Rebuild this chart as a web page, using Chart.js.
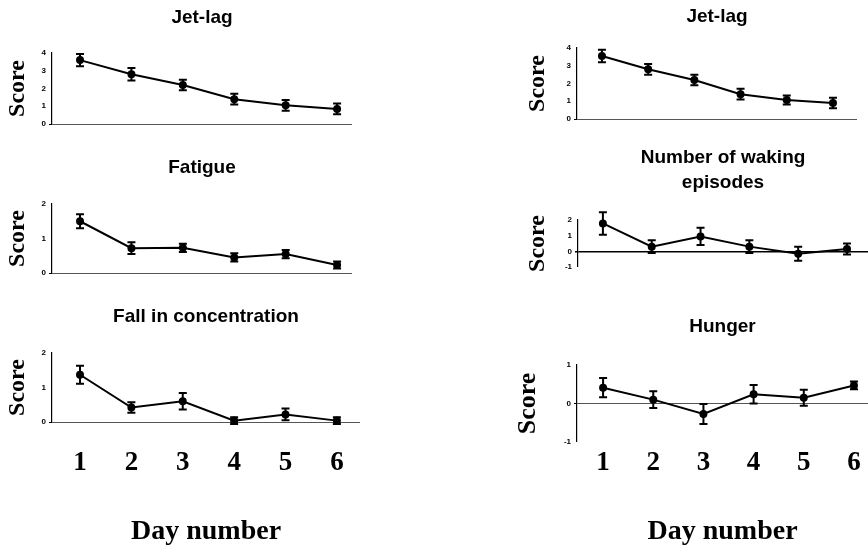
<!DOCTYPE html>
<html>
<head>
<meta charset="utf-8">
<script src="https://cdn.jsdelivr.net/npm/chart.js@4.4.1/dist/chart.umd.min.js"></script>
<style>
  body { margin: 0; background: #fff; }
  #wrap { position: relative; width: 868px; height: 548px; overflow: hidden; background: #fff; }
  #wrap canvas { position: absolute; left: 0; top: 0; }
</style>
</head>
<body>
<div id="wrap">
  <canvas id="jetLagL" width="868" height="548"></canvas>
  <canvas id="fatigue" width="868" height="548"></canvas>
  <canvas id="concentration" width="868" height="548"></canvas>
  <canvas id="jetLagR" width="868" height="548"></canvas>
  <canvas id="waking" width="868" height="548"></canvas>
  <canvas id="hunger" width="868" height="548"></canvas>
</div>
<script>
// DATA: day numbers and mean scores with their error bars
const days = [1, 2, 3, 4, 5, 6];

const jetLagLeft = [3.6, 2.8, 2.2, 1.4, 1.05, 0.85];
const jetLagLeftErr = [0.35, 0.35, 0.3, 0.3, 0.3, 0.3];

const fatigue = [1.5, 0.72, 0.73, 0.45, 0.55, 0.23];
const fatigueErr = [0.2, 0.17, 0.12, 0.12, 0.12, 0.1];

const concentration = [1.37, 0.42, 0.6, 0.04, 0.22, 0.04];
const concentrationErr = [0.26, 0.15, 0.24, 0.1, 0.17, 0.1];

const jetLagRight = [3.55, 2.8, 2.2, 1.4, 1.07, 0.9];
const jetLagRightErr = [0.35, 0.3, 0.3, 0.3, 0.25, 0.3];

const waking = [1.78, 0.3, 0.95, 0.3, -0.15, 0.15];
const wakingErr = [0.72, 0.4, 0.55, 0.4, 0.45, 0.35];

const hunger = [0.41, 0.1, -0.27, 0.24, 0.15, 0.47];
const hungerErr = [0.25, 0.22, 0.26, 0.24, 0.21, 0.1];

const W = 868, H = 548;
const titleFont = { family: "'Liberation Sans', Arial, sans-serif", size: 19, weight: 'bold', lineHeight: 1.3 };
const serifBold = "'Liberation Serif', 'Times New Roman', serif";

// error bars drawn with the chart's own scales
const errorBars = {
  id: 'errorBars',
  afterDatasetsDraw(chart) {
    const ds = chart.data.datasets[0];
    const xs = chart.scales.x, ys = chart.scales.y;
    const c = chart.ctx;
    c.save();
    c.strokeStyle = '#000';
    c.lineWidth = 2;
    ds.data.forEach((p, i) => {
      const e = ds.errors[i];
      const px = xs.getPixelForValue(p.x);
      const top = ys.getPixelForValue(p.y + e);
      const bot = ys.getPixelForValue(p.y - e);
      c.beginPath();
      c.moveTo(px, top); c.lineTo(px, bot);
      c.moveTo(px - 4, top); c.lineTo(px + 4, top);
      c.moveTo(px - 4, bot); c.lineTo(px + 4, bot);
      c.stroke();
    });
    c.restore();
  }
};

// one small panel; "box" is the plot area in page pixels
function panel(id, cfg) {
  const showX = !!cfg.showX;
  const lines = cfg.title.length;
  const lh = titleFont.size * titleFont.lineHeight;
  const padTop = cfg.titleY - lines * lh / 2;
  const scoreSize = cfg.scoreSize || 24;
  const yLeft = cfg.scoreX - scoreSize / 2;
  const bottomPad = showX ? 2 : H - cfg.box.b;

  return new Chart(document.getElementById(id), {
    type: 'line',
    data: {
      datasets: [{
        data: days.map((d, i) => ({ x: d, y: cfg.values[i] })),
        errors: cfg.errors,
        borderColor: '#000',
        borderWidth: 2,
        pointRadius: 3,
        pointBackgroundColor: '#000',
        pointBorderColor: '#000',
        tension: 0,
        clip: false
      }]
    },
    options: {
      responsive: false,
      animation: false,
      devicePixelRatio: 1,
      layout: {
        autoPadding: false,
        padding: { left: yLeft, top: padTop, right: W - cfg.box.r, bottom: bottomPad }
      },
      plugins: {
        legend: { display: false },
        tooltip: { enabled: false },
        title: {
          display: true,
          text: cfg.title,
          color: '#000',
          font: titleFont,
          fullSize: false,
          padding: { top: 0, bottom: cfg.box.t - padTop - lines * lh }
        }
      },
      scales: {
        x: {
          type: 'linear',
          min: cfg.xMin,
          max: cfg.xMax,
          display: showX,
          afterBuildTicks: (s) => { s.ticks = days.map(d => ({ value: d })); },
          afterFit: (s) => { s.height = showX ? H - bottomPad - cfg.box.b : 0; },
          border: { display: false },
          grid: { display: false, drawTicks: false },
          ticks: {
            color: '#000',
            padding: cfg.xTickPad || 0,
            font: { family: serifBold, size: 27, weight: 'bold' }
          },
          title: {
            display: showX,
            text: 'Day number',
            color: '#000',
            padding: 0,
            font: { family: serifBold, size: 28, weight: 'bold', lineHeight: 1 }
          }
        },
        y: {
          min: cfg.yMin,
          max: cfg.yMax,
          afterFit: (s) => { s.width = cfg.box.l - yLeft; },
          border: { display: true, color: '#000', width: 1.2 },
          grid: {
            drawOnChartArea: true,
            color: (c) => c.tick && c.tick.value === 0 ? (cfg.zeroColor || '#555') : 'rgba(0,0,0,0)',
            lineWidth: (c) => c.tick && c.tick.value === 0 ? (cfg.zeroWidth || 1) : 0,
            tickColor: '#000',
            tickLength: 3
          },
          ticks: {
            stepSize: 1,
            color: '#000',
            padding: 3,
            font: { family: "'Liberation Sans', Arial, sans-serif", size: 8, weight: 'bold' }
          },
          title: {
            display: true,
            text: 'Score',
            color: '#000',
            padding: 0,
            font: { family: serifBold, size: scoreSize, weight: 'bold', lineHeight: 1 }
          }
        }
      }
    },
    plugins: [errorBars]
  });
}

// left column
panel('jetLagL', {
  title: ['Jet-lag'], titleY: 18, values: jetLagLeft, errors: jetLagLeftErr,
  box: { l: 52, t: 53, r: 352, b: 124 }, yMin: 0, yMax: 4, xMin: 0.455, xMax: 6.29, scoreX: 18
});
panel('fatigue', {
  title: ['Fatigue'], titleY: 168, values: fatigue, errors: fatigueErr,
  box: { l: 52, t: 204, r: 352, b: 273 }, yMin: 0, yMax: 2, xMin: 0.455, xMax: 6.29, scoreX: 18
});
panel('concentration', {
  title: ['Fall in concentration'], titleY: 317, values: concentration, errors: concentrationErr,
  box: { l: 52, t: 353, r: 360, b: 422 }, yMin: 0, yMax: 2, xMin: 0.455, xMax: 6.45, scoreX: 18,
  showX: true, xTickPad: 25
});

// right column
panel('jetLagR', {
  title: ['Jet-lag'], titleY: 17, values: jetLagRight, errors: jetLagRightErr,
  box: { l: 577, t: 48, r: 857, b: 119 }, yMin: 0, yMax: 4, xMin: 0.46, xMax: 6.52, scoreX: 538
});
panel('waking', {
  title: ['Number of waking', 'episodes'], titleY: 170, values: waking, errors: wakingErr,
  box: { l: 578, t: 220, r: 868, b: 267 }, yMin: -1, yMax: 2, xMin: 0.49, xMax: 6.43, scoreX: 538,
  zeroColor: '#000', zeroWidth: 1.5
});
panel('hunger', {
  title: ['Hunger'], titleY: 327, values: hunger, errors: hungerErr,
  box: { l: 577, t: 365, r: 868, b: 442 }, yMin: -1, yMax: 1, xMin: 0.48, xMax: 6.28, scoreX: 528,
  scoreSize: 26, showX: true, xTickPad: 5
});
</script>
</body>
</html>
